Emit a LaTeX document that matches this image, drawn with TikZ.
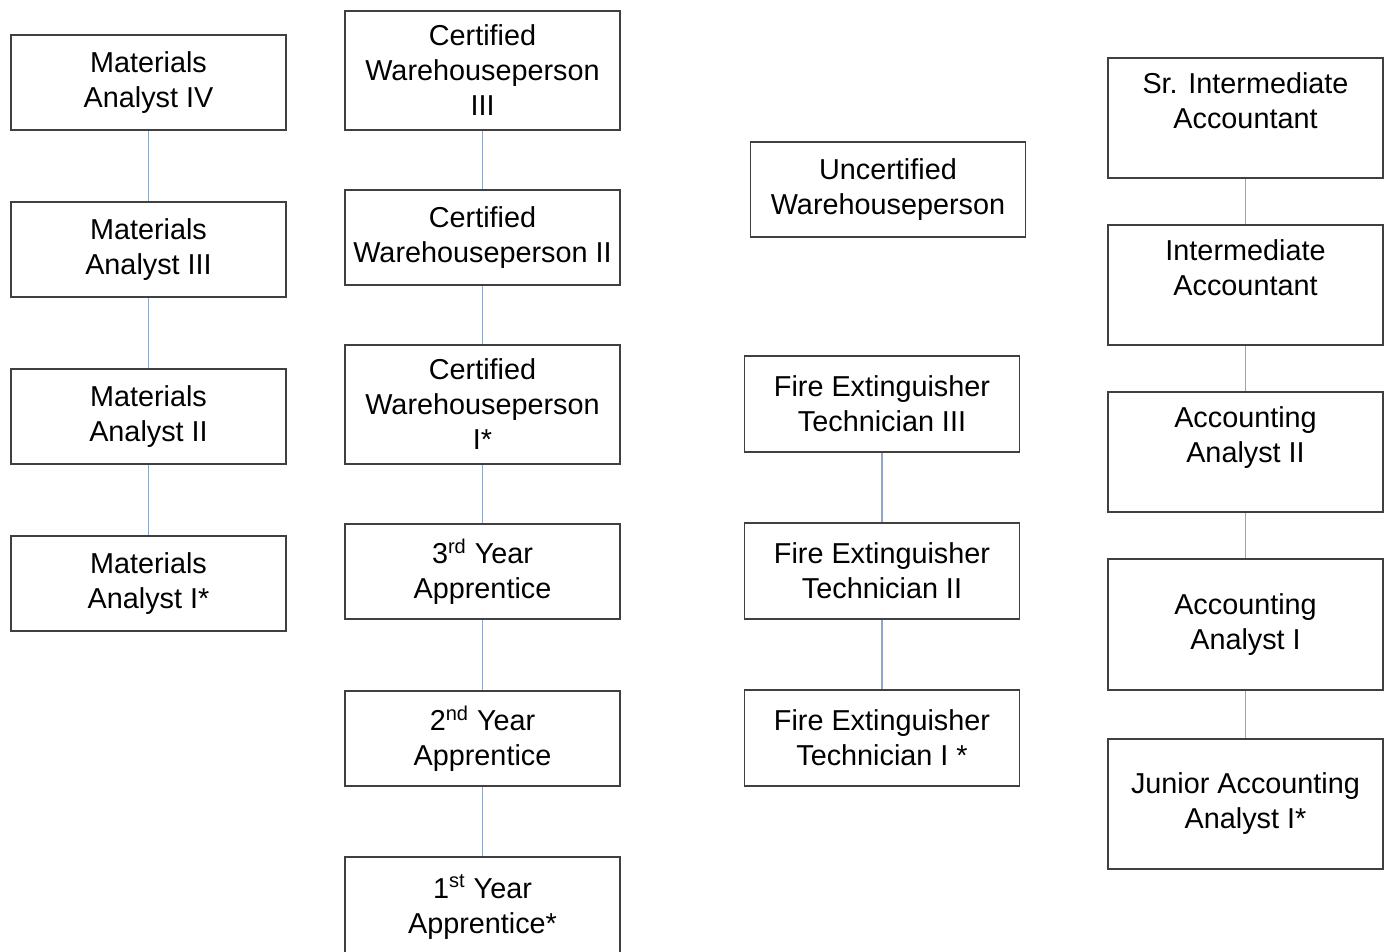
\documentclass[tikz,border=0pt]{standalone}
\usepackage{fontspec}
\setmainfont{Liberation Sans}
\definecolor{boxgray}{HTML}{404040}
\definecolor{linkblue}{HTML}{8EA8C6}
\begin{document}
\begin{tikzpicture}[x=.5pt,y=-.5pt,
  box/.style={draw=boxgray, line width=.8pt, fill=white, align=center,
    minimum width=137.5pt, inner sep=0pt,
    font=\fontsize{14.4}{17.5}\selectfont},
  link/.style={draw=linkblue, line width=.8pt}]
\useasboundingbox (0,0) rectangle (1392,952);
% materials analysts
\node[box, minimum height=47.5pt] (ma4) at (148.5,82.5) {Materials\\Analyst IV};
\node[box, minimum height=47.5pt] (ma3) at (148.5,249.5) {Materials\\Analyst III};
\node[box, minimum height=47.5pt] (ma2) at (148.5,416.5) {Materials\\Analyst II};
\node[box, minimum height=47.5pt] (ma1) at (148.5,583.5) {Materials\\Analyst I*};
% warehouse and apprentices
\node[box, minimum height=59.5pt] (cw3) at (482.5,70.5) {Certified\\Warehouseperson\\III};
\node[box, minimum height=47.5pt] (cw2) at (482.5,237.5) {Certified\\Warehouseperson II};
\node[box, minimum height=59.5pt] (cw1) at (482.5,404.5) {Certified\\Warehouseperson\\I*};
\node[box, minimum height=47.5pt] (ap3) at (482.5,571.5) {3\textsuperscript{rd} Year\\Apprentice};
\node[box, minimum height=47.5pt] (ap2) at (482.5,738.5) {2\textsuperscript{nd} Year\\Apprentice};
\node[box, minimum height=50pt] (ap1) at (482.5,907) {1\textsuperscript{st} Year\\Apprentice*};
% uncertified and fire extinguisher
\node[box, minimum height=47.5pt] (uw) at (888,189.5) {Uncertified\\Warehouseperson};
\node[box, minimum height=48pt] (fe3) at (882,404) {Fire Extinguisher\\Technician III};
\node[box, minimum height=48pt] (fe2) at (882,571) {Fire Extinguisher\\Technician II};
\node[box, minimum height=48pt] (fe1) at (882,738) {Fire Extinguisher\\Technician I *};
% accounting
\node[box, minimum height=60pt] (sia) at (1245.5,118) {Sr. Intermediate\\Accountant\\~};
\node[box, minimum height=60pt] (ia) at (1245.5,285) {Intermediate\\Accountant\\~};
\node[box, minimum height=60pt] (aa2) at (1245.5,452) {Accounting\\Analyst II\\~};
\node[box, minimum height=65.5pt] (aa1) at (1245.5,624.5) {Accounting\\Analyst I};
\node[box, minimum height=65pt] (jaa) at (1245.5,804) {Junior Accounting\\Analyst I*};
\draw[link] (ma4) -- (ma3) (ma3) -- (ma2) (ma2) -- (ma1);
\draw[link] (cw3) -- (cw2) (cw2) -- (cw1) (cw1) -- (ap3) (ap3) -- (ap2) (ap2) -- (ap1);
\draw[link] (fe3) -- (fe2) (fe2) -- (fe1);
\draw[link] (sia) -- (ia) (ia) -- (aa2) (aa2) -- (aa1) (aa1) -- (jaa);
\end{tikzpicture}
\end{document}
